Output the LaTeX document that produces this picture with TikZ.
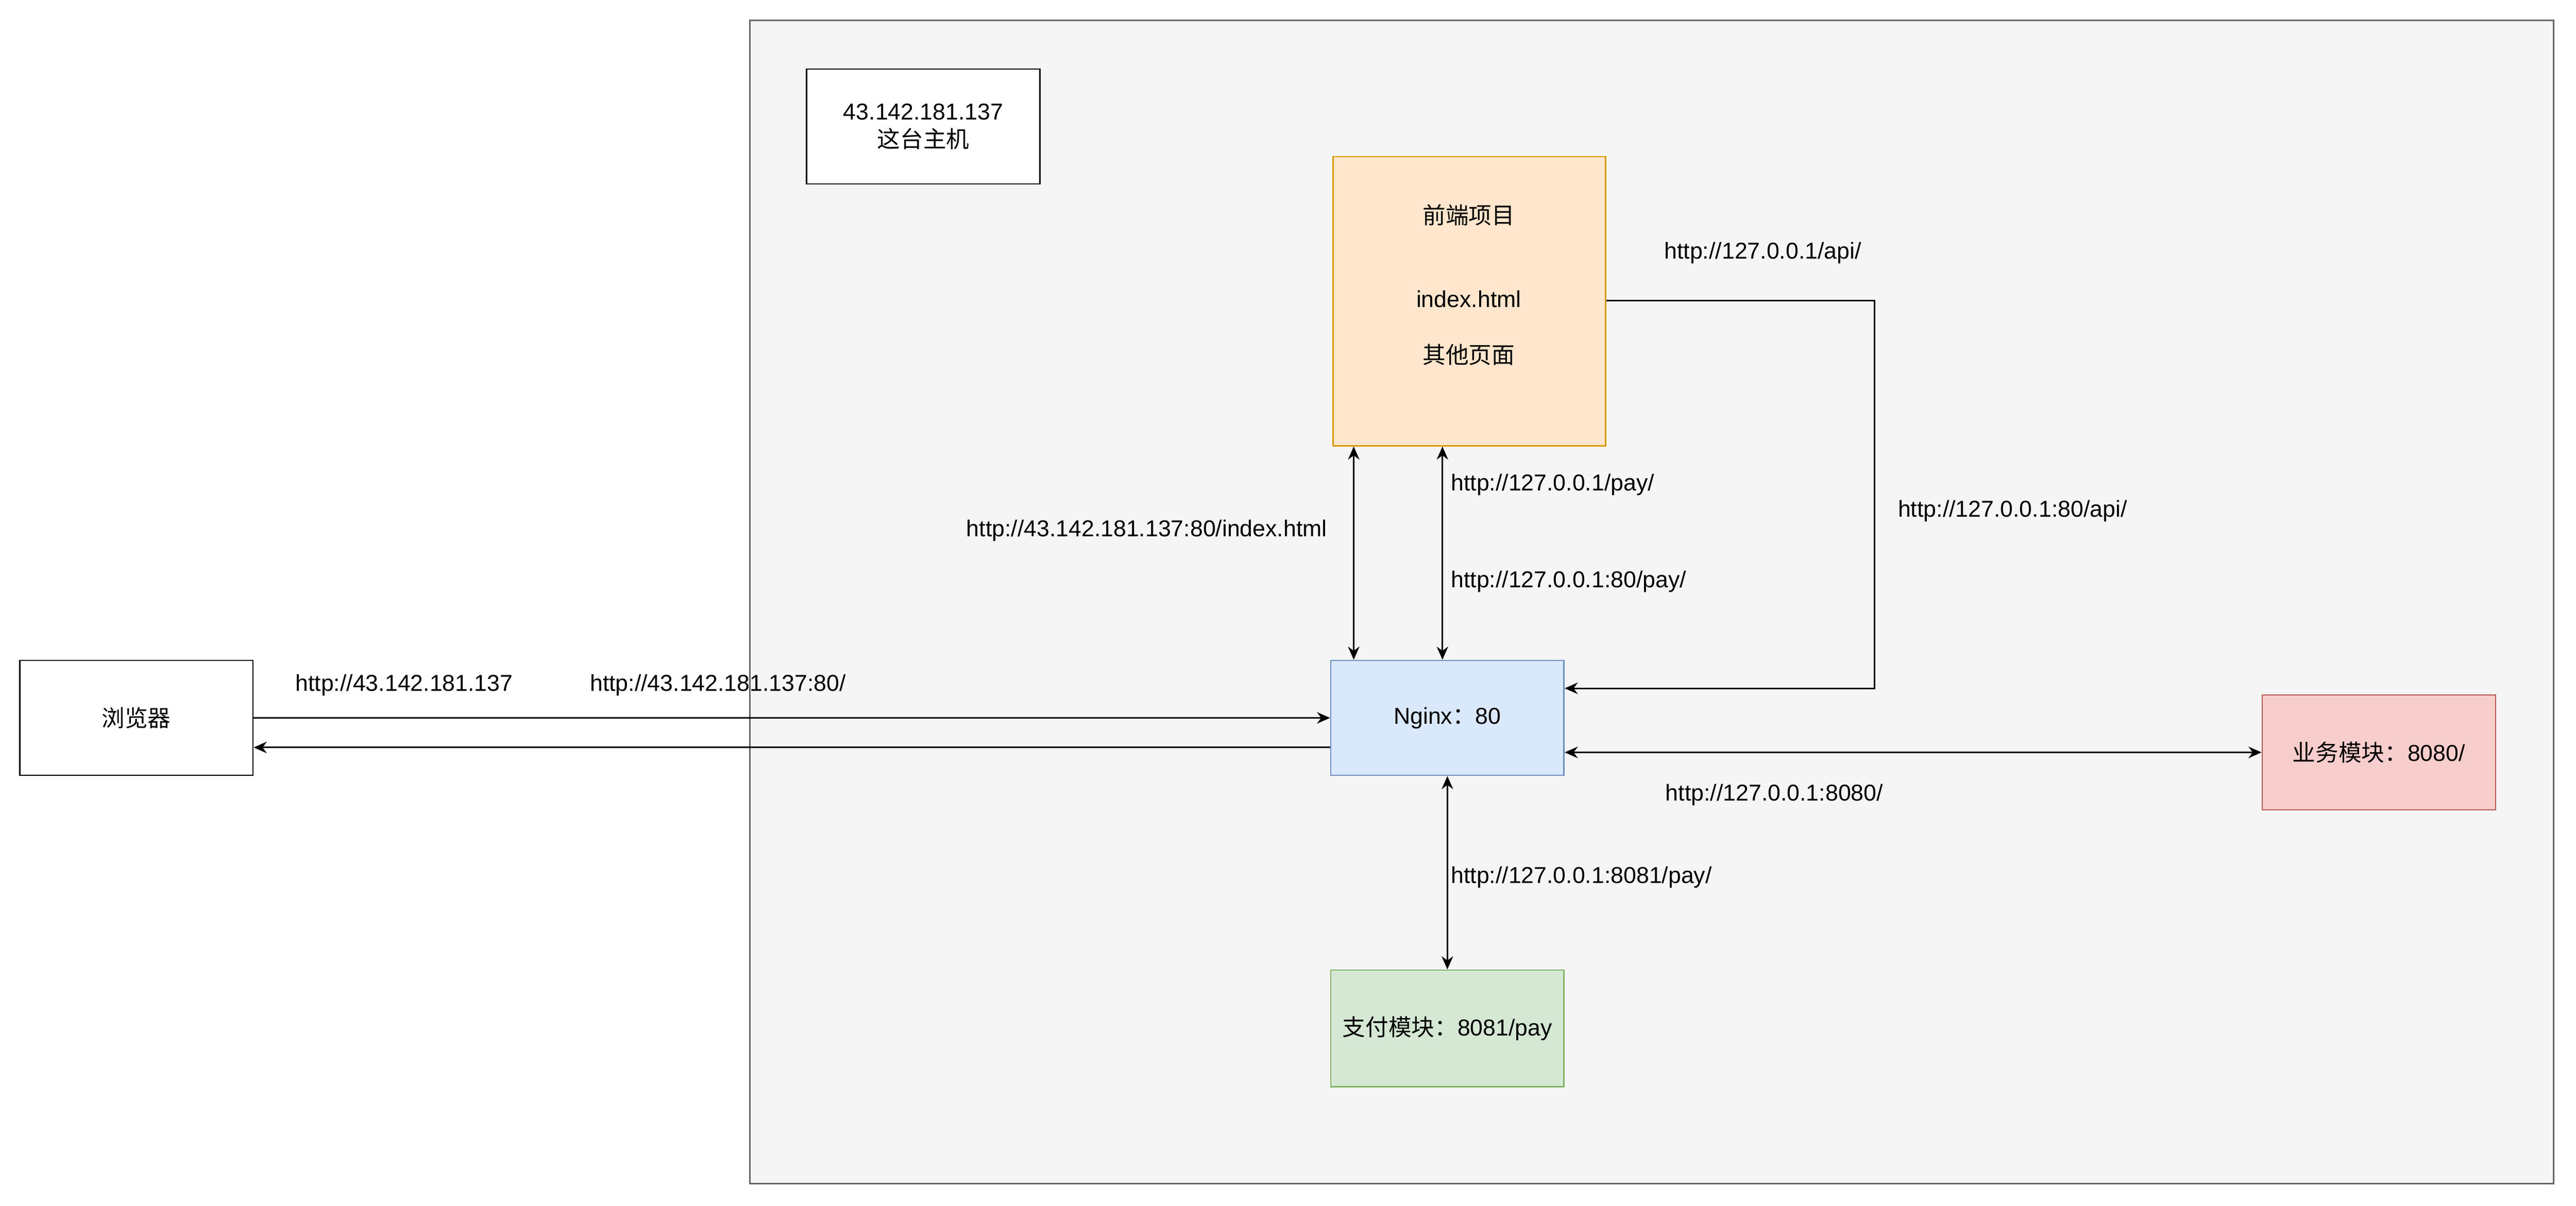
\documentclass[tikz,border=0pt]{standalone}
\usepackage{fontspec}
\setmainfont{Liberation Sans}
\newfontfamily\cjk{Noto Sans CJK SC}
\usetikzlibrary{arrows.meta}
\definecolor{cont}{HTML}{F5F5F5}
\definecolor{feF}{HTML}{FFE6CC}\definecolor{feD}{HTML}{D79B00}
\definecolor{ngF}{HTML}{DAE8FC}\definecolor{ngD}{HTML}{6C8EBF}
\definecolor{pyF}{HTML}{D5E8D4}\definecolor{pyD}{HTML}{82B366}
\definecolor{bzF}{HTML}{F8CECC}\definecolor{bzD}{HTML}{B85450}
\begin{document}
\begin{tikzpicture}[x=1pt,y=-1pt,
  every node/.style={font=\fontsize{14}{17}\selectfont},
  box/.style={draw,rectangle,line width=0.8pt,inner sep=0pt},
  lab/.style={inner sep=1pt},
  arr/.style={-{Stealth[length=8pt,width=7pt]},line width=0.9pt},
  barr/.style={{Stealth[length=8pt,width=7pt]}-{Stealth[length=8pt,width=7pt]},line width=0.9pt}]
\useasboundingbox[fill=white] (0,0) rectangle (1568,734);
\node[box,draw=black!60,fill=cont,minimum width=1098pt,minimum height=708pt,anchor=north west] (host) at (456,12) {};
\node[box,fill=white,minimum width=142pt,minimum height=70pt,align=center] (hl) at (562,77) {43.142.181.137\\{\cjk 这台主机}};
\node[box,draw=feD,fill=feF,minimum width=166pt,minimum height=176pt,anchor=north west] (fe) at (811,95) {};
\node (t1) at (894,131) {\cjk 前端项目};
\node (t2) at (894,182) {index.html};
\node (t3) at (894,216) {\cjk 其他页面};
\node[box,draw=ngD,fill=ngF,minimum width=142pt,minimum height=70pt] (ng) at (881,437) {Nginx{\cjk ：}80};
\node[box,fill=white,minimum width=142pt,minimum height=70pt] (br) at (83,437) {\cjk 浏览器};
\node[box,draw=bzD,fill=bzF,minimum width=142pt,minimum height=70pt] (biz) at (1448,458) {{\cjk 业务模块：}8080/};
\node[box,draw=pyD,fill=pyF,minimum width=142pt,minimum height=71pt] (pay) at (881,626) {{\cjk 支付模块：}8081/pay};
\coordinate (c1) at (1141,183);
\coordinate (c2) at (1141,419);
\draw[arr] (br.east |- 0,437) -- (ng.west |- 0,437);
\draw[arr] (ng.west |- 0,455) -- (br.east |- 0,455);
\draw[barr] (fe.south -| 824,0) -- (ng.north -| 824,0);
\draw[barr] (fe.south -| 878,0) -- (ng.north -| 878,0);
\draw[arr] (fe.east |- c1) -- (c1) -- (c2) -- (ng.east |- c2);
\draw[barr] (ng.east |- 0,458) -- (biz.west |- 0,458);
\draw[barr] (ng.south -| 881,0) -- (pay.north -| 881,0);
\node[lab] (l1) at (246,417) {http://43.142.181.137};
\node[lab] (l2) at (437,417) {http://43.142.181.137:80/};
\node[lab] (l3) at (698,323) {http://43.142.181.137:80/index.html};
\node[lab,anchor=west] (l4) at (882,295) {http://127.0.0.1/pay/};
\node[lab,anchor=west] (l5) at (882,354) {http://127.0.0.1:80/pay/};
\node[lab] (l6) at (1073,154) {http://127.0.0.1/api/};
\node[lab] (l7) at (1225,311) {http://127.0.0.1:80/api/};
\node[lab] (l8) at (1080,484) {http://127.0.0.1:8080/};
\node[lab,anchor=west] (l9) at (882,534) {http://127.0.0.1:8081/pay/};
\end{tikzpicture}
\end{document}
